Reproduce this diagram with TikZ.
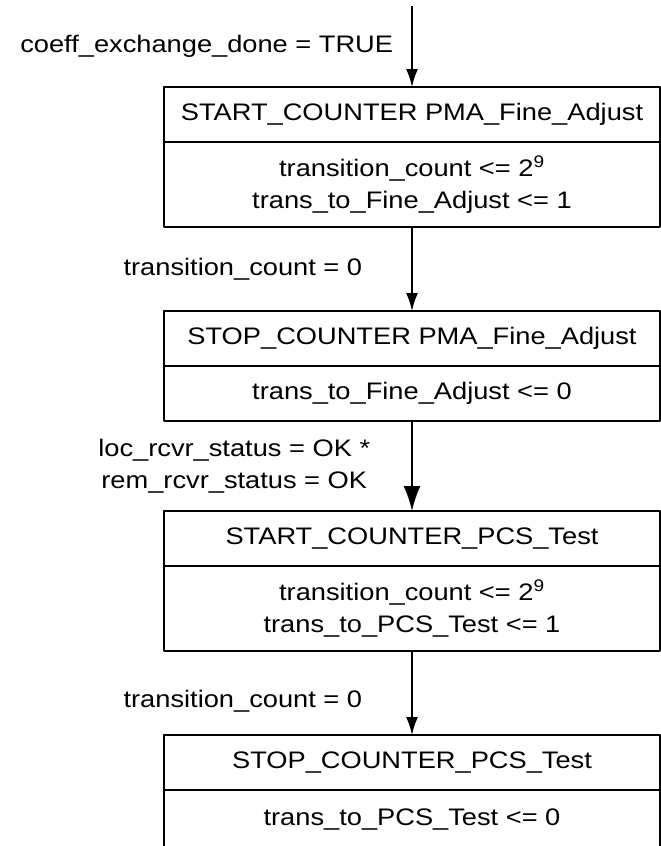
\documentclass[tikz,border=0pt]{standalone}
\usepackage{fontspec}
\setmainfont{Liberation Sans}[FakeStretch=1.14]
\usetikzlibrary{positioning,arrows.meta}
\tikzset{
	every node/.style={font=\fontsize{17}{23}\selectfont},
	hdr/.style={draw,line width=1.2pt,minimum width=12.4cm,minimum height=1.375cm,outer sep=0pt,inner sep=0pt},
	body/.style={hdr,align=center},
	cond/.style={inner sep=0pt,align=center},
	flow/.style={line width=1.2pt,-{Latex[length=4.5mm,width=3mm]}},
	flowbig/.style={line width=1.2pt,-{Latex[length=6.2mm,width=4.2mm]}}
}
\begin{document}
\begin{tikzpicture}[line join=round]
				\useasboundingbox (0,0) rectangle (16.525,-21.15);
				\coordinate (top) at (10.3,-0.15);
				% fine adjust counter
				\node[hdr,anchor=north] (startfa) at (10.3,-2.175) {START\_COUNTER PMA\_Fine\_Adjust};
				\node[body,minimum height=2.125cm,below=0pt of startfa] (startfab) {transition\_count <= 2\textsuperscript{9}\\trans\_to\_Fine\_Adjust <= 1};
				\node[hdr,below=2.1cm of startfab] (stopfa) {STOP\_COUNTER PMA\_Fine\_Adjust};
				\node[body,below=0pt of stopfa] (stopfab) {trans\_to\_Fine\_Adjust <= 0};
				% pcs test counter
				\node[hdr,below=2.25cm of stopfab] (startpcs) {START\_COUNTER\_PCS\_Test};
				\node[body,minimum height=2.125cm,below=0pt of startpcs] (startpcsb) {transition\_count <= 2\textsuperscript{9}\\trans\_to\_PCS\_Test <= 1};
				\node[hdr,below=2.1cm of startpcsb] (stoppcs) {STOP\_COUNTER\_PCS\_Test};
				\node[body,minimum height=1.5cm,below=0pt of stoppcs] (stoppcsb) {trans\_to\_PCS\_Test <= 0};
				% transitions
				\draw[flow] (top) -- node[cond,midway,left=0.45cm] (c1) {coeff\_exchange\_done = TRUE} (startfa);
				\draw[flow] (startfab) -- node[cond,midway,left=1.225cm] (c2) {transition\_count = 0} (stopfa);
				\draw[flowbig] (stopfab) -- node[cond,midway,left=1.025cm] (c3) {loc\_rcvr\_status = OK *\\rem\_rcvr\_status = OK} (startpcs);
				\draw[flow] (startpcsb) -- node[cond,pos=0.6,left=1.225cm] (c4) {transition\_count = 0} (stoppcs);
\end{tikzpicture}
\end{document}
